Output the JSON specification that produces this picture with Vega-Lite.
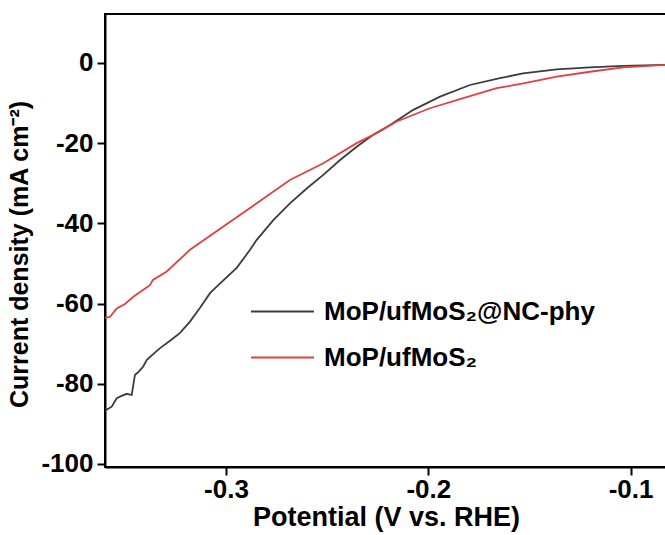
{
  "$schema": "https://vega.github.io/schema/vega-lite/v6.json",
  "width": 562,
  "height": 453,
  "autosize": "none",
  "padding": {"left": 105, "top": 14, "right": 0, "bottom": 68},
  "background": "white",
  "config": {
    "view": {"stroke": "black", "strokeWidth": 2},
    "font": "Liberation Sans"
  },
  "data": {
    "values": [
      {"x": -0.3598, "y": -86.8, "s": "MoP/ufMoS₂@NC-phy"},
      {"x": -0.3590, "y": -86.5, "s": "MoP/ufMoS₂@NC-phy"},
      {"x": -0.3565, "y": -85.7, "s": "MoP/ufMoS₂@NC-phy"},
      {"x": -0.3540, "y": -83.6, "s": "MoP/ufMoS₂@NC-phy"},
      {"x": -0.3524, "y": -83.2, "s": "MoP/ufMoS₂@NC-phy"},
      {"x": -0.3491, "y": -82.5, "s": "MoP/ufMoS₂@NC-phy"},
      {"x": -0.3466, "y": -82.8, "s": "MoP/ufMoS₂@NC-phy"},
      {"x": -0.3450, "y": -77.8, "s": "MoP/ufMoS₂@NC-phy"},
      {"x": -0.3430, "y": -76.9, "s": "MoP/ufMoS₂@NC-phy"},
      {"x": -0.3409, "y": -75.7, "s": "MoP/ufMoS₂@NC-phy"},
      {"x": -0.3392, "y": -74.1, "s": "MoP/ufMoS₂@NC-phy"},
      {"x": -0.3360, "y": -72.6, "s": "MoP/ufMoS₂@NC-phy"},
      {"x": -0.3326, "y": -71.1, "s": "MoP/ufMoS₂@NC-phy"},
      {"x": -0.3270, "y": -69.0, "s": "MoP/ufMoS₂@NC-phy"},
      {"x": -0.3227, "y": -67.3, "s": "MoP/ufMoS₂@NC-phy"},
      {"x": -0.3178, "y": -64.5, "s": "MoP/ufMoS₂@NC-phy"},
      {"x": -0.3129, "y": -61.1, "s": "MoP/ufMoS₂@NC-phy"},
      {"x": -0.3079, "y": -57.4, "s": "MoP/ufMoS₂@NC-phy"},
      {"x": -0.3046, "y": -55.8, "s": "MoP/ufMoS₂@NC-phy"},
      {"x": -0.2947, "y": -51.1, "s": "MoP/ufMoS₂@NC-phy"},
      {"x": -0.2881, "y": -46.6, "s": "MoP/ufMoS₂@NC-phy"},
      {"x": -0.2848, "y": -44.1, "s": "MoP/ufMoS₂@NC-phy"},
      {"x": -0.2766, "y": -39.2, "s": "MoP/ufMoS₂@NC-phy"},
      {"x": -0.2684, "y": -35.0, "s": "MoP/ufMoS₂@NC-phy"},
      {"x": -0.2601, "y": -31.3, "s": "MoP/ufMoS₂@NC-phy"},
      {"x": -0.2519, "y": -27.9, "s": "MoP/ufMoS₂@NC-phy"},
      {"x": -0.2436, "y": -24.2, "s": "MoP/ufMoS₂@NC-phy"},
      {"x": -0.2354, "y": -20.9, "s": "MoP/ufMoS₂@NC-phy"},
      {"x": -0.2272, "y": -17.9, "s": "MoP/ufMoS₂@NC-phy"},
      {"x": -0.2189, "y": -15.5, "s": "MoP/ufMoS₂@NC-phy"},
      {"x": -0.2074, "y": -11.7, "s": "MoP/ufMoS₂@NC-phy"},
      {"x": -0.1942, "y": -8.4, "s": "MoP/ufMoS₂@NC-phy"},
      {"x": -0.1794, "y": -5.5, "s": "MoP/ufMoS₂@NC-phy"},
      {"x": -0.1646, "y": -3.8, "s": "MoP/ufMoS₂@NC-phy"},
      {"x": -0.1532, "y": -2.6, "s": "MoP/ufMoS₂@NC-phy"},
      {"x": -0.1365, "y": -1.6, "s": "MoP/ufMoS₂@NC-phy"},
      {"x": -0.1201, "y": -1.1, "s": "MoP/ufMoS₂@NC-phy"},
      {"x": -0.1038, "y": -0.75, "s": "MoP/ufMoS₂@NC-phy"},
      {"x": -0.0820, "y": -0.45, "s": "MoP/ufMoS₂@NC-phy"},
      {"x": -0.3598, "y": -63.6, "s": "MoP/ufMoS₂"},
      {"x": -0.3573, "y": -63.3, "s": "MoP/ufMoS₂"},
      {"x": -0.3540, "y": -61.2, "s": "MoP/ufMoS₂"},
      {"x": -0.3499, "y": -60.1, "s": "MoP/ufMoS₂"},
      {"x": -0.3458, "y": -58.3, "s": "MoP/ufMoS₂"},
      {"x": -0.3376, "y": -55.4, "s": "MoP/ufMoS₂"},
      {"x": -0.3361, "y": -54.1, "s": "MoP/ufMoS₂"},
      {"x": -0.3293, "y": -52.0, "s": "MoP/ufMoS₂"},
      {"x": -0.3178, "y": -46.6, "s": "MoP/ufMoS₂"},
      {"x": -0.3013, "y": -40.8, "s": "MoP/ufMoS₂"},
      {"x": -0.2848, "y": -35.0, "s": "MoP/ufMoS₂"},
      {"x": -0.2684, "y": -29.2, "s": "MoP/ufMoS₂"},
      {"x": -0.2519, "y": -25.0, "s": "MoP/ufMoS₂"},
      {"x": -0.2354, "y": -20.0, "s": "MoP/ufMoS₂"},
      {"x": -0.2255, "y": -17.5, "s": "MoP/ufMoS₂"},
      {"x": -0.2156, "y": -14.6, "s": "MoP/ufMoS₂"},
      {"x": -0.1992, "y": -11.3, "s": "MoP/ufMoS₂"},
      {"x": -0.1827, "y": -8.8, "s": "MoP/ufMoS₂"},
      {"x": -0.1662, "y": -6.3, "s": "MoP/ufMoS₂"},
      {"x": -0.1530, "y": -5.1, "s": "MoP/ufMoS₂"},
      {"x": -0.1365, "y": -3.4, "s": "MoP/ufMoS₂"},
      {"x": -0.1201, "y": -2.2, "s": "MoP/ufMoS₂"},
      {"x": -0.1036, "y": -1.1, "s": "MoP/ufMoS₂"},
      {"x": -0.0820, "y": -0.45, "s": "MoP/ufMoS₂"}
    ]
  },
  "mark": {"type": "line", "strokeWidth": 1.8, "clip": true},
  "encoding": {
    "x": {
      "field": "x",
      "type": "quantitative",
      "scale": {"domain": [-0.3598, -0.082], "nice": false, "zero": false},
      "axis": {
        "title": "Potential (V vs. RHE)",
        "values": [-0.3, -0.2, -0.1],
        "labelExpr": "(datum.value < 0 ? '-' : '') + format(abs(datum.value), '.1f')",
        "grid": false,
        "domainColor": "black",
        "domainWidth": 2,
        "tickColor": "black",
        "tickWidth": 2,
        "tickSize": 8,
        "labelFont": "Liberation Sans",
        "labelFontSize": 26,
        "labelFontWeight": "bold",
        "labelColor": "black",
        "labelPadding": 1,
        "labelFlush": false,
        "titleFont": "Liberation Sans",
        "titleFontSize": 27,
        "titleFontWeight": "bold",
        "titleColor": "black",
        "titlePadding": 2
      }
    },
    "y": {
      "field": "y",
      "type": "quantitative",
      "scale": {"domain": [-100.75, 12.2], "nice": false, "zero": false},
      "axis": {
        "title": "Current density (mA cm⁻²)",
        "values": [-100, -80, -60, -40, -20, 0],
        "labelExpr": "(datum.value < 0 ? '-' : '') + format(abs(datum.value), 'd')",
        "grid": false,
        "domainColor": "black",
        "domainWidth": 2,
        "tickColor": "black",
        "tickWidth": 2,
        "tickSize": 8,
        "labelFont": "Liberation Sans",
        "labelFontSize": 26,
        "labelFontWeight": "bold",
        "labelColor": "black",
        "labelPadding": 4,
        "labelFlush": false,
        "titleFont": "Liberation Sans",
        "titleFontSize": 25,
        "titleFontWeight": "bold",
        "titleColor": "black",
        "titlePadding": 8,
        "titleY": 240
      }
    },
    "color": {
      "field": "s",
      "type": "nominal",
      "scale": {
        "domain": ["MoP/ufMoS₂@NC-phy", "MoP/ufMoS₂"],
        "range": ["#3c3c3c", "#e0403f"]
      },
      "legend": {
        "title": null,
        "orient": "none",
        "legendX": 145,
        "legendY": 265,
        "padding": 0,
        "symbolType": "stroke",
        "symbolSize": 3969,
        "symbolStrokeWidth": 1.8,
        "rowPadding": -27,
        "labelOffset": 9,
        "labelFont": "Liberation Sans",
        "labelFontSize": 26,
        "labelFontWeight": "bold",
        "labelColor": "black",
        "labelLimit": 400
      }
    }
  }
}
